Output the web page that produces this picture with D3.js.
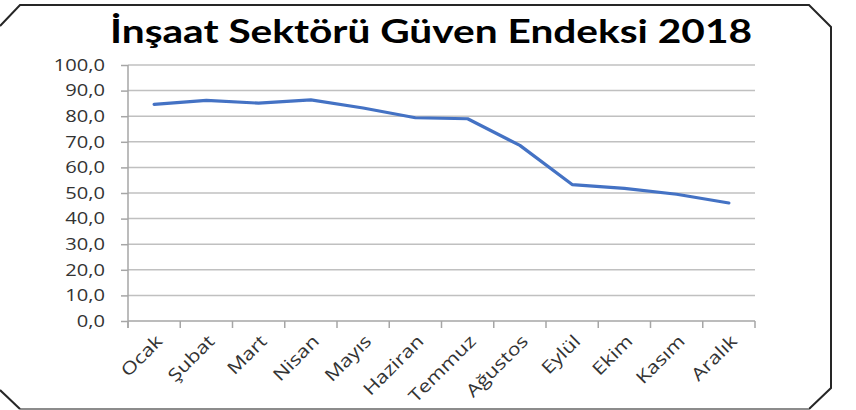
<!DOCTYPE html>
<html>
<head>
<meta charset="utf-8">
<script src="https://cdn.jsdelivr.net/npm/d3@7"></script>
<style>
  body { margin: 0; background: #fff; }
  svg { display: block; }
</style>
</head>
<body>
<div id="chart"></div>
<script>
// chart data
const title = 'İnşaat Sektörü Güven Endeksi 2018';
const months = ['Ocak', 'Şubat', 'Mart', 'Nisan', 'Mayıs', 'Haziran', 'Temmuz', 'Ağustos', 'Eylül', 'Ekim', 'Kasım', 'Aralık'];
const values = [84.6, 86.2, 85.1, 86.4, 83.2, 79.4, 79.0, 68.6, 53.3, 51.8, 49.5, 46.1];
const yTicks = [0, 10, 20, 30, 40, 50, 60, 70, 80, 90, 100];

const width = 856;
const height = 410;
const margin = { top: 65, right: 101, bottom: 89, left: 128 };
const labelFont = 'Open Sans, sans-serif';

const svg = d3.select('#chart')
  .append('svg')
  .attr('width', width)
  .attr('height', height);

// frame with cut corners
const frame = d3.path();
frame.moveTo(0, 26);
frame.lineTo(20, 5);
frame.lineTo(809, 5);
frame.lineTo(831, 27);
frame.lineTo(831, 388);
frame.lineTo(809, 409);
svg.append('path')
  .attr('d', frame.toString())
  .attr('fill', 'none')
  .attr('stroke', '#262626')
  .attr('stroke-width', 2);

svg.append('line')
  .attr('x1', 20).attr('x2', 809)
  .attr('y1', 409).attr('y2', 409)
  .attr('stroke', '#8c8c8c')
  .attr('stroke-width', 2);

svg.append('line')
  .attr('x1', 0).attr('x2', 20)
  .attr('y1', 390).attr('y2', 409)
  .attr('stroke', '#262626')
  .attr('stroke-width', 2);

// title
svg.append('text')
  .attr('x', 431)
  .attr('y', 43)
  .attr('text-anchor', 'middle')
  .attr('font-family', 'Lato, sans-serif')
  .attr('font-weight', 700)
  .attr('font-size', 32)
  .attr('fill', '#000')
  .attr('textLength', 642)
  .attr('lengthAdjust', 'spacingAndGlyphs')
  .text(title);

// scales
const xScale = d3.scaleBand()
  .domain(months)
  .range([margin.left, width - margin.right]);

const yScale = d3.scaleLinear()
  .domain([0, 100])
  .range([height - margin.bottom, margin.top]);

// gridlines
svg.append('g')
  .selectAll('line')
  .data(yTicks.filter((t) => t > 0))
  .enter()
  .append('line')
  .attr('x1', margin.left)
  .attr('x2', width - margin.right)
  .attr('y1', (d) => yScale(d))
  .attr('y2', (d) => yScale(d))
  .attr('stroke', '#c0c0c0')
  .attr('stroke-width', 1.5);

// y axis
const yAxis = d3.axisLeft(yScale)
  .tickValues(yTicks)
  .tickSize(7)
  .tickPadding(16)
  .tickFormat((d) => d3.format('.1f')(d).replace('.', ','));

const yG = svg.append('g')
  .attr('transform', `translate(${margin.left}, 0)`)
  .call(yAxis);

yG.select('.domain').remove();
yG.append('line')
  .attr('x1', 0).attr('x2', 0)
  .attr('y1', margin.top).attr('y2', height - margin.bottom + 7)
  .attr('stroke', '#a6a6a6')
  .attr('stroke-width', 1.5);
yG.selectAll('.tick line').attr('stroke', '#a6a6a6').attr('stroke-width', 1.5);
yG.selectAll('.tick text')
  .attr('font-family', labelFont)
  .attr('font-size', 16.5)
  .attr('fill', '#333')
  .attr('x', 0)
  .attr('transform', 'translate(-23, 0) scale(1.22, 1)');

// x axis
const xAxis = d3.axisBottom(xScale).tickSize(0).tickPadding(0);

const xG = svg.append('g')
  .attr('transform', `translate(0, ${height - margin.bottom})`)
  .call(xAxis);

xG.select('.domain')
  .attr('stroke', '#a6a6a6')
  .attr('stroke-width', 1.5)
  .attr('d', `M${margin.left},0H${width - margin.right}`);

// ticks at band boundaries
xG.selectAll('.boundary')
  .data(months.map((m) => xScale(m)).concat([xScale(months[months.length - 1]) + xScale.bandwidth()]))
  .enter()
  .append('line')
  .attr('class', 'boundary')
  .attr('x1', (d) => d).attr('x2', (d) => d)
  .attr('y1', 0).attr('y2', 7)
  .attr('stroke', '#a6a6a6')
  .attr('stroke-width', 1.5);

xG.selectAll('.tick text')
  .attr('font-family', labelFont)
  .attr('font-size', 17.5)
  .attr('fill', '#333')
  .attr('text-anchor', 'end')
  .attr('transform', 'translate(5, 17) rotate(-45) scale(1.22, 1)')
  .attr('dy', '0.35em')
  .attr('y', 0);

// the line
const line = d3.line()
  .x((d, i) => xScale(months[i]) + xScale.bandwidth() / 2)
  .y((d) => yScale(d));

svg.append('path')
  .datum(values)
  .attr('d', line)
  .attr('fill', 'none')
  .attr('stroke', '#4472c4')
  .attr('stroke-width', 3.2)
  .attr('stroke-linejoin', 'round')
  .attr('stroke-linecap', 'round');
</script>
</body>
</html>
